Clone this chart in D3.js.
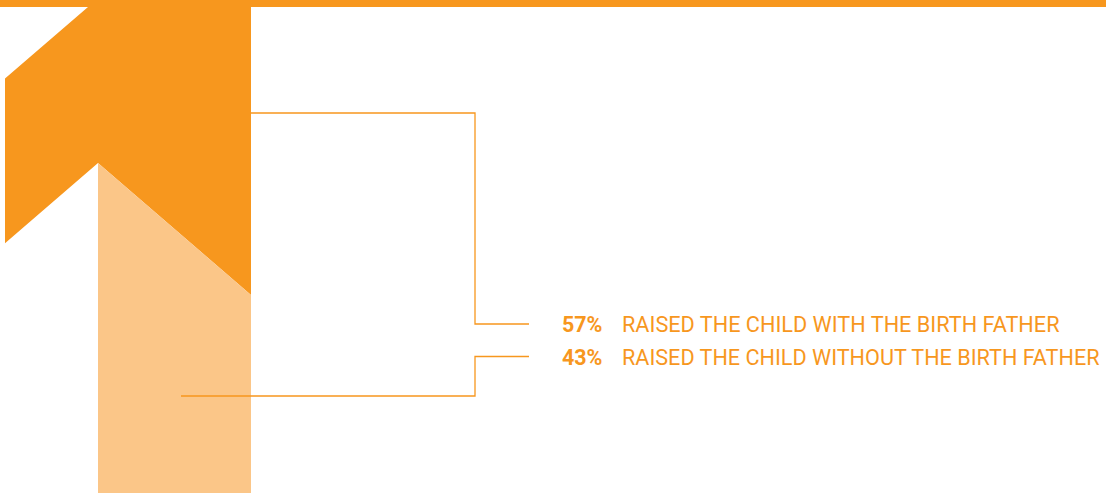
<!DOCTYPE html>
<html>
<head>
<meta charset="utf-8">
<script src="https://cdn.jsdelivr.net/npm/d3@7"></script>
<style>
  html, body { margin: 0; padding: 0; background: #ffffff; }
  svg { display: block; }
</style>
</head>
<body>
<svg id="chart" width="1106" height="493"></svg>
<script>
// ---- data ----
const categories = ["RAISED THE CHILD WITH THE BIRTH FATHER", "RAISED THE CHILD WITHOUT THE BIRTH FATHER"];
const values = [57, 43];
const valueLabels = ["57%", "43%"];
const colors = ["#F7971E", "#FBC688"];

// ---- layout ----
const W = 1106, H = 493;
const svg = d3.select("#chart");
const dark = colors[0], light = colors[1];

// top banner
svg.append("rect").attr("x", 0).attr("y", 0).attr("width", W).attr("height", 7).attr("fill", dark);

// arrow geometry
const xL = 5, xStem = 98, xR = 251, yTop = 7;
const slope = 132 / 153;               // diagonal slope of the arrow head
// scale mapping the "without" share to where the split meets the right edge
const yShare = d3.scaleLinear().domain([0, 100]).range([H, 32.5]);
const splitR = yShare(values[1]);                 // right end of split line
const apexY = splitR - (xR - xStem) * slope;      // apex of inner notch
const topLeftX = 88;
const leftTopY = yTop + (topLeftX - xL) * slope;
const leftBotY = apexY + (xStem - xL) * slope;

const line = d3.line();
// dark (with father) part
svg.append("path")
  .attr("d", line([[topLeftX, yTop], [xR, yTop], [xR, splitR], [xStem, apexY], [xL, leftBotY], [xL, leftTopY]]) + "Z")
  .attr("fill", dark);
// light (without father) part
svg.append("path")
  .attr("d", line([[xStem, apexY], [xR, splitR], [xR, H], [xStem, H]]) + "Z")
  .attr("fill", light);

// label rows
const rowY = d3.scalePoint().domain(categories).range([332, 364.5]);
const xBend = 475, xLeaderEnd = 529;
const anchors = [[xR, 113], [181, 396]];

categories.forEach((c, i) => {
  const ly = rowY(c) - 8;
  svg.append("path")
    .attr("d", line([anchors[i], [xBend, anchors[i][1]], [xBend, ly], [xLeaderEnd, ly]]))
    .attr("fill", "none")
    .attr("stroke", dark)
    .attr("stroke-width", 1.3);

  svg.append("text")
    .attr("x", 562).attr("y", rowY(c))
    .attr("font-family", "Roboto, 'DejaVu Sans', sans-serif")
    .attr("font-weight", 700)
    .attr("font-size", 21.5)
    .attr("fill", dark)
    .attr("textLength", 40.5)
    .attr("lengthAdjust", "spacingAndGlyphs")
    .text(valueLabels[i]);

  svg.append("text")
    .attr("x", 622).attr("y", rowY(c))
    .attr("font-family", "Roboto, 'DejaVu Sans', sans-serif")
    .attr("font-weight", 400)
    .attr("font-size", 21.5)
    .attr("fill", dark)
    .attr("textLength", i === 0 ? 437.5 : 477.5)
    .attr("lengthAdjust", "spacingAndGlyphs")
    .text(c);
});
</script>
</body>
</html>
